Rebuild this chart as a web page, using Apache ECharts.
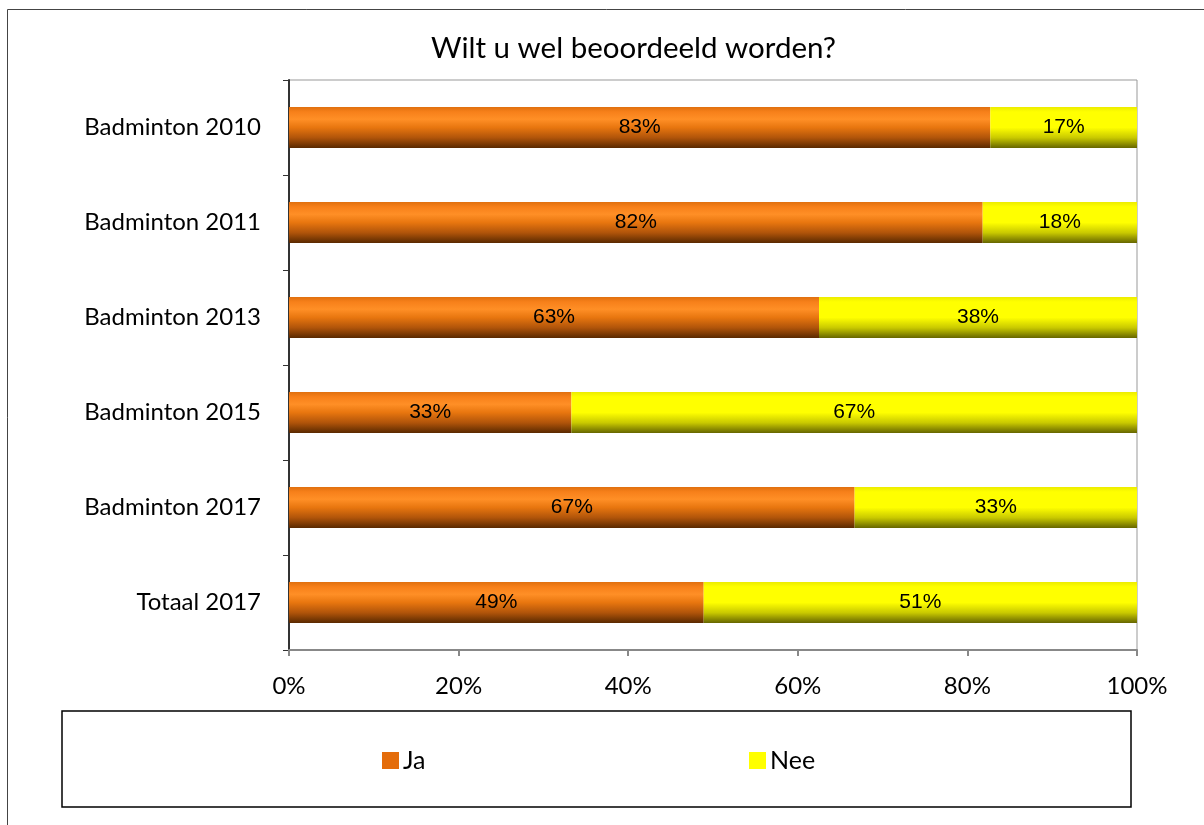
<!DOCTYPE html>
<html><head><meta charset="utf-8">
<script src="https://cdn.jsdelivr.net/npm/echarts@6/dist/echarts.min.js"></script>
<style>html,body{margin:0;padding:0;background:#fff}#c{width:1204px;height:825px}</style>
</head><body><div id="c"></div>
<script>
const titleText = 'Wilt u wel beoordeeld worden?';
const categories = ['Badminton 2010','Badminton 2011','Badminton 2013','Badminton 2015','Badminton 2017','Totaal 2017'];
const jaValues = [82.7, 81.8, 62.5, 33.3, 66.7, 48.9];
const neeValues = [17.3, 18.2, 37.5, 66.7, 33.3, 51.1];
const xTicks = [0, 20, 40, 60, 80, 100];

const fontMain = "Lato, 'Open Sans', sans-serif";
const fontNarrow = "'Liberation Sans Narrow', 'Liberation Sans', Arial, sans-serif";

const orangeGrad = new echarts.graphic.LinearGradient(0,0,0,1,[
  {offset:0, color:'#e0700f'},{offset:0.12, color:'#f7801a'},{offset:0.3, color:'#ff8f26'},
  {offset:0.5, color:'#e8760f'},{offset:0.75, color:'#b0540a'},{offset:1, color:'#5a2900'}]);
const yellowGrad = new echarts.graphic.LinearGradient(0,0,0,1,[
  {offset:0, color:'#ecec00'},{offset:0.12, color:'#ffff00'},{offset:0.5, color:'#ffff00'},
  {offset:0.75, color:'#c9c900'},{offset:1, color:'#666600'}]);

const lbl = {show:true, position:'inside', color:'#000', fontFamily:fontNarrow, fontSize:21,
  formatter: p => Math.round(p.value) + '%'};

const chart = echarts.init(document.getElementById('c'), null, {renderer:'canvas'});
chart.setOption({
  animation:false,
  title:{text:titleText, left:426, top:28, textStyle:{fontFamily:fontMain, fontSize:29.5, fontWeight:'normal', color:'#000'}},
  graphic:[
    {type:'rect', shape:{x:7.5, y:9.5, width:1400, height:1000}, style:{fill:'none', stroke:'#444', lineWidth:1}, z:-1},
    {type:'rect', shape:{x:62, y:711, width:1069, height:96}, style:{fill:'none', stroke:'#000', lineWidth:1.5}}
  ],
  legend:[
    {data:[{name:'Ja', itemStyle:{color:'#e46c0a'}}], left:382, top:748, padding:0, itemWidth:17, itemHeight:17, itemGap:6, icon:'rect',
     textStyle:{fontFamily:fontMain, fontSize:25, color:'#000', padding:[0,0,0,-1]}},
    {data:[{name:'Nee', itemStyle:{color:'#ffff00'}}], left:749, top:748, padding:0, itemWidth:17, itemHeight:17, itemGap:6, icon:'rect',
     textStyle:{fontFamily:fontMain, fontSize:25, color:'#000', padding:[0,0,0,-1]}}
  ],
  grid:{left:289, right:67, top:80, bottom:175, show:true, borderColor:'#999', borderWidth:1, backgroundColor:'transparent'},
  xAxis:{type:'value', min:0, max:100, interval:20,
    axisLine:{show:true, lineStyle:{color:'#888', width:2}},
    axisTick:{show:true, length:6, lineStyle:{color:'#888', width:2}},
    splitLine:{show:false},
    axisLabel:{margin:24, fontFamily:fontMain, fontSize:24, color:'#000', formatter: v => xTicks.includes(v) ? v + '%' : ''}},
  yAxis:{type:'category', data:categories, inverse:true,
    axisLine:{show:true, lineStyle:{color:'#333', width:2}},
    axisTick:{show:true, length:6, lineStyle:{color:'#333', width:1}},
    axisLabel:{margin:28, fontFamily:fontMain, fontSize:24, color:'#000'}},
  series:[
    {name:'Ja', type:'bar', stack:'t', data:jaValues, barWidth:41, label:lbl,
     itemStyle:{color:orangeGrad}},
    {name:'Nee', type:'bar', stack:'t', data:neeValues, barWidth:41, label:lbl,
     itemStyle:{color:yellowGrad}}
  ]
});
</script></body></html>
